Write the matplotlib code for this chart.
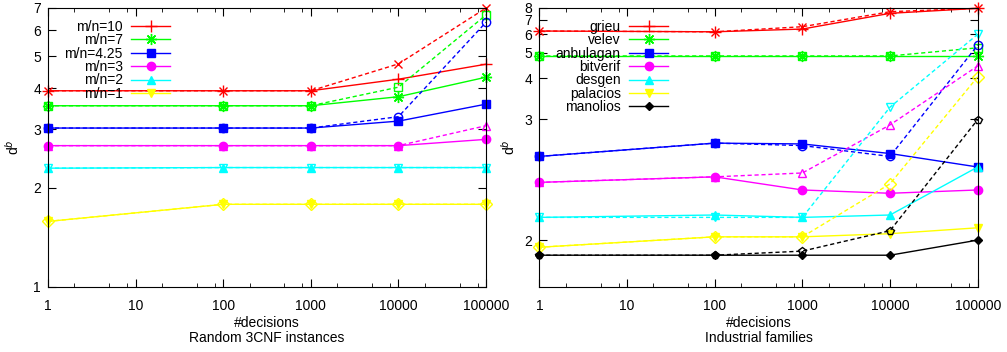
import numpy as np
import matplotlib
matplotlib.use("Agg")
import matplotlib.pyplot as plt
from matplotlib.ticker import FixedLocator, NullFormatter

plt.rcParams["font.family"] = ["Liberation Sans", "DejaVu Sans"]
plt.rcParams["font.size"] = 10

X = [1, 100, 1000, 10000, 100000]
XTICKS = [1, 10, 100, 1000, 10000, 100000]

# ---- left: random 3CNF (solid = filled marker, dashed = open marker) ----
RAND_LABELS = ["m/n=10", "m/n=7", "m/n=4.25", "m/n=3", "m/n=2", "m/n=1"]
rand_solid = [
    [3.93, 3.93, 3.93, 4.26, 4.73],
    [3.54, 3.54, 3.54, 3.77, 4.32],
    [3.03, 3.03, 3.03, 3.18, 3.58],
    [2.68, 2.68, 2.68, 2.68, 2.80],
    [2.29, 2.30, 2.30, 2.30, 2.30],
    [1.58, 1.78, 1.78, 1.78, 1.78],
]
rand_dashed = [
    [3.93, 3.93, 3.93, 4.74, 7.00],
    [3.54, 3.54, 3.54, 4.03, 6.67],
    [3.03, 3.03, 3.03, 3.28, 6.34],
    [2.68, 2.68, 2.68, 2.68, 3.08],
    [2.29, 2.30, 2.30, 2.30, 2.30],
    [1.58, 1.78, 1.78, 1.78, 1.78],
]

# ---- right: industrial families ----
IND_LABELS = ["grieu", "velev", "anbulagan", "bitverif", "desgen", "palacios", "manolios"]
ind_solid = [
    [6.21, 6.16, 6.34, 7.53, 7.97],
    [4.85, 4.85, 4.85, 4.85, 4.85],
    [2.49, 2.64, 2.63, 2.52, 2.39],
    [2.27, 2.31, 2.22, 2.20, 2.22],
    [2.08, 2.09, 2.08, 2.09, 2.39],
    [1.98, 2.01, 2.01, 2.02, 2.04],
    [1.96, 1.96, 1.96, 1.96, 2.00],
]
ind_dashed = [
    [6.21, 6.16, 6.50, 7.67, 7.97],
    [4.85, 4.85, 4.85, 4.85, 5.24],
    [2.49, 2.64, 2.61, 2.49, 5.38],
    [2.27, 2.31, 2.34, 2.90, 4.43],
    [2.08, 2.08, 2.08, 3.23, 6.00],
    [1.98, 2.01, 2.01, 2.26, 4.04],
    [1.96, 1.96, 1.97, 2.03, 2.99],
]

COLORS = ["#ff0000", "#00ff00", "#0000ff", "#ff00ff", "#00ffff", "#ffff00", "#000000"]
MK_SOLID = ["+", (8, 2, 0), "s", "o", "^", "v", "D"]
MK_DASH = ["x", "s", "o", "^", "v", "D", "p"]
MS_SOLID = [8, 8, 6, 6, 6, 6, 4]
MS_DASH = [6, 6, 6, 6, 6, 6, 6]


def draw(ax, solid, dashed, labels):
    handles = []
    for i in range(len(labels)):
        c = COLORS[i]
        h, = ax.plot(X, solid[i], color=c, lw=1, marker=MK_SOLID[i], ms=MS_SOLID[i],
                     mew=1, label=labels[i], clip_on=False)
        ax.plot(X, dashed[i], color=c, lw=1, ls=(0, (3, 2)), marker=MK_DASH[i],
                ms=MS_DASH[i], mfc="none", mew=1, clip_on=False)
        handles.append(h)
    return handles


def style_x(ax, sub, ypad):
    ax.set_xscale("log")
    ax.set_xlim(1, 100000)
    ax.xaxis.set_major_locator(FixedLocator(XTICKS))
    ax.set_xticklabels([str(v) for v in XTICKS])
    minors = [d * s for d in XTICKS[:-1] for s in (2, 5, 8)]
    ax.xaxis.set_minor_locator(FixedLocator(minors))
    ax.xaxis.set_minor_formatter(NullFormatter())
    ax.tick_params(which="both", direction="in", top=True, right=True)
    ax.tick_params(which="major", length=6)
    ax.tick_params(axis="x", which="major", pad=9)
    ax.tick_params(axis="y", which="major", pad=5)
    ax.tick_params(which="minor", length=3)
    ax.set_xlabel("#decisions\n" + sub, labelpad=2, linespacing=1.05)
    ax.set_ylabel("d$^b$", labelpad=ypad)


def legend(ax, handles):
    ax.legend(handles=handles, loc="upper left", bbox_to_anchor=(0.025, 0.978),
              frameon=False, markerfirst=False, numpoints=1,
              handlelength=2.8, handletextpad=0.6, labelspacing=-0.04,
              borderaxespad=0)


fig = plt.figure(figsize=(10.07, 3.52), dpi=100)
axL = fig.add_axes([0.0477, 0.1847, 0.435, 0.7926])
axR = fig.add_axes([0.5356, 0.1847, 0.4353, 0.7926])

hL = draw(axL, rand_solid, rand_dashed, RAND_LABELS)
axL.set_yscale("log")
axL.set_ylim(1, 7)
axL.yaxis.set_major_locator(FixedLocator([1, 2, 3, 4, 5, 6, 7]))
axL.set_yticklabels(["1", "2", "3", "4", "5", "6", "7"])
axL.yaxis.set_minor_locator(FixedLocator([]))
style_x(axL, "Random 3CNF instances", 8)

hR = draw(axR, ind_solid, ind_dashed, IND_LABELS)
axR.set_yscale("function", functions=(lambda v: np.log10(np.maximum(v - 1.8, 1e-6)),
                                       lambda v: 10 ** v + 1.8))
axR.set_ylim(1.9, 8)
axR.yaxis.set_major_locator(FixedLocator([2, 3, 4, 5, 6, 7, 8]))
axR.set_yticklabels(["2", "3", "4", "5", "6", "7", "8"])
axR.yaxis.set_minor_locator(FixedLocator([]))
style_x(axR, "Industrial families", 5)

legend(axL, hL)
legend(axR, hR)

fig.savefig("out.png", dpi=100)
